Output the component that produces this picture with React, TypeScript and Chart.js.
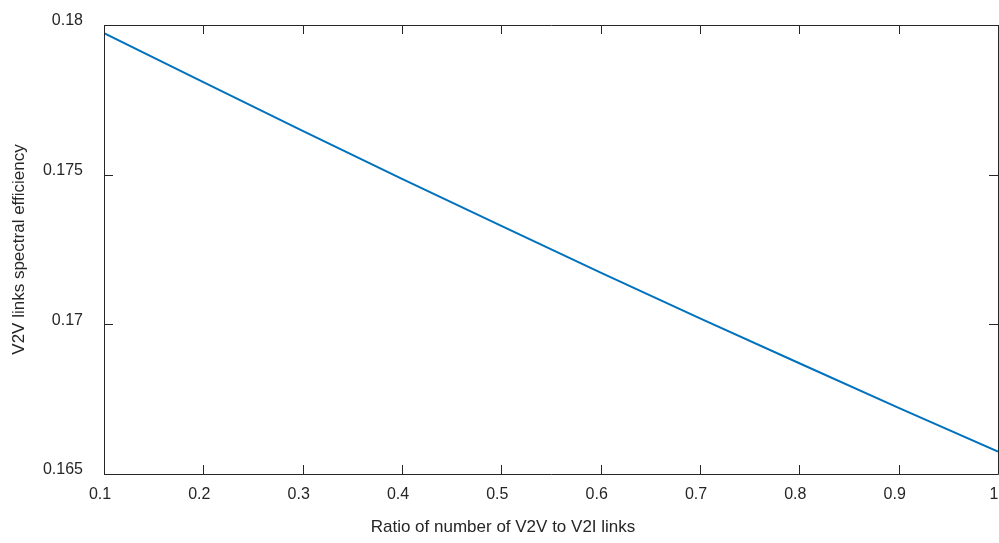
import React, { useEffect, useRef } from "react";
import { Chart, registerables } from "chart.js";

Chart.register(...registerables);

const ratios = [0.1, 0.2, 0.3, 0.4, 0.5, 0.6, 0.7, 0.8, 0.9, 1.0];
const efficiency = [0.17973, 0.17809, 0.17646, 0.17486, 0.17329, 0.17173, 0.1702, 0.1687, 0.16721, 0.16575];
const xTicks = [0.1, 0.2, 0.3, 0.4, 0.5, 0.6, 0.7, 0.8, 0.9, 1];
const yTicks = [0.165, 0.17, 0.175, 0.18];
const xTitle = "Ratio of number of V2V to V2I links";
const yTitle = "V2V links spectral efficiency";

const FONT = "'Liberation Sans', Arial, Helvetica, sans-serif";
const TEXT = "#262626";

const boxPlugin = {
  id: "matlabBox",
  afterDraw(chart: any) {
    const { ctx, chartArea } = chart;
    const { left, right, top, bottom } = chartArea;
    const xs = chart.scales.x;
    const ys = chart.scales.y;
    const tl = 9;
    ctx.save();
    ctx.strokeStyle = TEXT;
    ctx.lineWidth = 1;
    ctx.beginPath();
    xTicks.forEach((v) => {
      const px = Math.round(xs.getPixelForValue(v)) + 0.5;
      ctx.moveTo(px, bottom);
      ctx.lineTo(px, bottom - tl);
      ctx.moveTo(px, top);
      ctx.lineTo(px, top + tl);
    });
    yTicks.forEach((v) => {
      const py = Math.round(ys.getPixelForValue(v)) + 0.5;
      ctx.moveTo(left, py);
      ctx.lineTo(left + tl, py);
      ctx.moveTo(right, py);
      ctx.lineTo(right - tl, py);
    });
    ctx.stroke();
    ctx.beginPath();
    ctx.rect(Math.round(left) + 0.5, Math.round(top) + 0.5, Math.round(right - left), Math.round(bottom - top));
    ctx.stroke();
    // x-axis title, centred on the figure as in the reference
    ctx.fillStyle = TEXT;
    ctx.font = `17px ${FONT}`;
    ctx.textAlign = "center";
    ctx.textBaseline = "middle";
    ctx.fillText(xTitle, 503, xs.bottom - 16);
    ctx.restore();
  },
};

export default function App() {
  const ref = useRef<HTMLCanvasElement | null>(null);

  useEffect(() => {
    if (!ref.current) return;
    const chart = new Chart(ref.current, {
      type: "line",
      data: {
        datasets: [
          {
            data: ratios.map((r, i) => ({ x: r, y: efficiency[i] })),
            borderColor: "#0072BD",
            borderWidth: 2,
            pointRadius: 0,
            fill: false,
            tension: 0,
          },
        ],
      },
      options: {
        animation: false,
        responsive: true,
        maintainAspectRatio: false,
        layout: { padding: { top: 25, right: 1, left: 0, bottom: 0 } },
        plugins: { legend: { display: false }, tooltip: { enabled: false } },
        scales: {
          x: {
            type: "linear",
            min: 0.1,
            max: 1,
            afterBuildTicks: (s: any) => {
              s.ticks = xTicks.map((v) => ({ value: v }));
            },
            afterFit: (s: any) => {
              s.height = 69;
              s.paddingLeft = 0;
              s.paddingRight = 0;
            },
            grid: { display: false, drawTicks: false },
            border: { display: false },
            ticks: {
              color: TEXT,
              font: { family: FONT, size: 16 },
              padding: 11,
              labelOffset: -4,
              maxRotation: 0,
              autoSkip: false,
              callback: (v: any) => String(Number(Number(v).toFixed(3))),
            },
            title: { display: false },
          },
          y: {
            type: "linear",
            min: 0.165,
            max: 0.18,
            afterBuildTicks: (s: any) => {
              s.ticks = yTicks.map((v) => ({ value: v }));
            },
            afterFit: (s: any) => {
              s.width = 104;
              s.paddingTop = 0;
              s.paddingBottom = 0;
            },
            grid: { display: false, drawTicks: false },
            border: { display: false },
            ticks: {
              color: TEXT,
              font: { family: FONT, size: 16 },
              padding: 21,
              labelOffset: -4,
              autoSkip: false,
              callback: (v: any) => String(Number(Number(v).toFixed(3))),
            },
            title: {
              display: true,
              text: yTitle,
              color: TEXT,
              font: { family: FONT, size: 17 },
              padding: { top: 9, bottom: 0 },
            },
          },
        },
      },
      plugins: [boxPlugin],
    });
    return () => chart.destroy();
  }, []);

  return (
    <div style={{ position: "fixed", left: 0, top: 0, width: 999, height: 543, background: "#fff" }}>
      <canvas ref={ref} />
    </div>
  );
}
